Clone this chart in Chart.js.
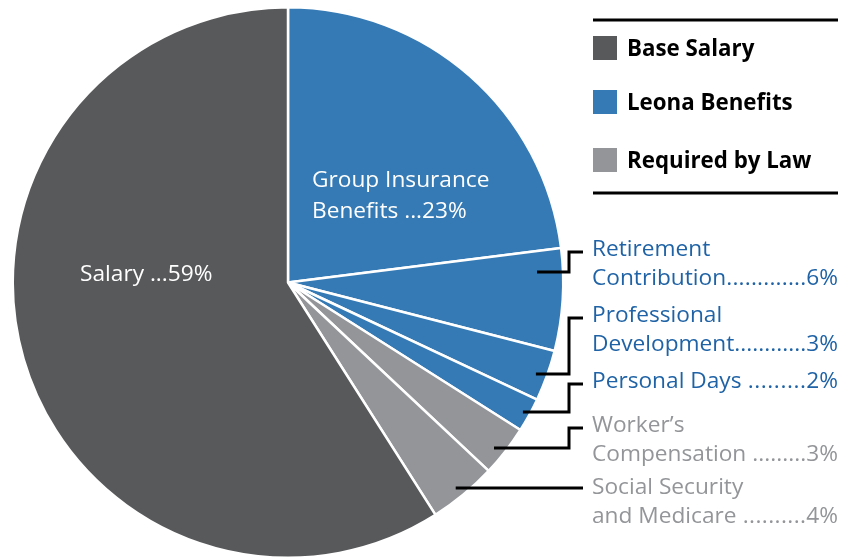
<!DOCTYPE html>
<html>
<head>
<meta charset="utf-8">
<script src="https://cdn.jsdelivr.net/npm/chart.js@4"></script>
<style>
  html, body { margin: 0; padding: 0; background: #fff; overflow: hidden; }
</style>
</head>
<body>
<canvas id="pieChart" width="845" height="559"></canvas>
<script>
// slices, clockwise from 12 o'clock
const sliceLabels = ['Group Insurance Benefits', 'Retirement Contribution', 'Professional Development', 'Personal Days', 'Worker\u2019s Compensation', 'Social Security and Medicare', 'Salary'];
const sliceValues = [23, 6, 3, 2, 3, 4, 59];
const sliceGroups = [1, 1, 1, 1, 2, 2, 0];

const groupNames = ['Base Salary', 'Leona Benefits', 'Required by Law'];
const groupColors = ['#58595b', '#357ab4', '#939598'];
const groupTextColors = ['#58595b', '#1f63a6', '#939598'];

// label text, split in lines (last line gets the dotted leader + percent)
const labelLines = [
    ['Group Insurance', 'Benefits ...'],
    ['Retirement', 'Contribution'],
    ['Professional', 'Development'],
    ['Personal Days '],
    ['Worker\u2019s', 'Compensation '],
    ['Social Security', 'and Medicare '],
    ['Salary ...']
];

const FONT = '"Open Sans", "Noto Sans", sans-serif';
const FONT_SIZE = 22.7;

// inside labels: offset from pie centre
const insideLabels = { 0: { dx: 24, dy: -102 }, 6: { dx: -208, dy: -8 } };
// outside callouts: first text line centre, leader start y, inset from rim
const callouts = {
    1: { textY: 250, lineY: 272, inset: 26 },
    2: { textY: 316, lineY: 374, inset: 11 },
    3: { textY: 382, lineY: 412, inset: 7 },
    4: { textY: 426, lineY: 448, inset: 11 },
    5: { textY: 488, lineY: 488, inset: 10 }
};

const labelPlugin = {
    id: 'labelPlugin',
    afterDraw(chart) {
        const ctx = chart.ctx;
        const arcs = chart.getDatasetMeta(0).data;
        const cx = arcs[0].x, cy = arcs[0].y, R = arcs[0].outerRadius;
        ctx.save();
        ctx.textBaseline = 'middle';
        ctx.font = FONT_SIZE + 'px ' + FONT;

        // labels inside the pie
        Object.keys(insideLabels).forEach(i => {
            const p = insideLabels[i];
            const lines = labelLines[i];
            ctx.fillStyle = '#fff';
            ctx.textAlign = 'left';
            lines.forEach((t, k) => {
                const txt = k === lines.length - 1 ? t + sliceValues[i] + '%' : t;
                ctx.fillText(txt, cx + p.dx, cy + p.dy + k * 31);
            });
        });

        // callouts on the right
        const textX = 592, rightX = 838, elbowX = 569, endX = 583;
        Object.keys(callouts).forEach(i => {
            const c = callouts[i];
            const lines = labelLines[i];
            ctx.fillStyle = groupTextColors[sliceGroups[i]];
            lines.forEach((t, k) => {
                const y = c.textY + k * 29;
                ctx.textAlign = 'left';
                ctx.fillText(t, textX, y);
                if (k === lines.length - 1) {
                    // dotted leader spread evenly up to the percent
                    const pct = sliceValues[i] + '%';
                    const textEnd = textX + ctx.measureText(t).width;
                    const pctW = ctx.measureText(pct).width;
                    const dotW = ctx.measureText('.').width;
                    const gap = rightX - pctW - textEnd;
                    const n = Math.max(Math.floor(gap / dotW), 1);
                    const step = gap / n;
                    for (let d = 0; d < n; d++) {
                        ctx.fillText('.', textEnd + d * step + (step - dotW) / 2, y);
                    }
                    ctx.textAlign = 'right';
                    ctx.fillText(pct, rightX, y);
                }
            });
            // leader line
            const dy = c.lineY - cy;
            const r = R - c.inset;
            const sx = cx + Math.sqrt(Math.max(r * r - dy * dy, 0));
            const topY = c.textY + 2;
            ctx.strokeStyle = '#000';
            ctx.lineWidth = 3;
            ctx.beginPath();
            ctx.moveTo(sx, c.lineY);
            if (Math.abs(c.lineY - topY) > 3) {
                ctx.lineTo(elbowX, c.lineY);
                ctx.lineTo(elbowX, topY);
                ctx.lineTo(endX, topY);
            } else {
                ctx.lineTo(endX, c.lineY);
            }
            ctx.stroke();
        });

        // legend
        const legX = 593, legRight = 838;
        ctx.strokeStyle = '#000';
        ctx.lineWidth = 3;
        ctx.beginPath();
        ctx.moveTo(legX, 20); ctx.lineTo(legRight, 20);
        ctx.moveTo(legX, 193); ctx.lineTo(legRight, 193);
        ctx.stroke();
        const legY = [48, 102, 160];
        ctx.font = 'bold 22.3px ' + FONT;
        ctx.textAlign = 'left';
        groupNames.forEach((name, g) => {
            ctx.fillStyle = groupColors[g];
            ctx.fillRect(legX, legY[g] - 12, 24, 24);
            ctx.fillStyle = '#000';
            ctx.fillText(name, 627, legY[g] + 2);
        });
        ctx.restore();
    }
};

const ctx = document.getElementById('pieChart').getContext('2d');
const pieChart = new Chart(ctx, {
    type: 'pie',
    data: {
        labels: sliceLabels,
        datasets: [{
            data: sliceValues,
            backgroundColor: sliceGroups.map(g => groupColors[g]),
            borderColor: '#fff',
            borderWidth: 2.5
        }]
    },
    options: {
        responsive: false,
        animation: false,
        layout: { padding: { left: 11, top: 6, bottom: 0, right: 280 } },
        plugins: {
            legend: { display: false },
            tooltip: { enabled: false }
        }
    },
    plugins: [labelPlugin]
});
</script>
</body>
</html>
